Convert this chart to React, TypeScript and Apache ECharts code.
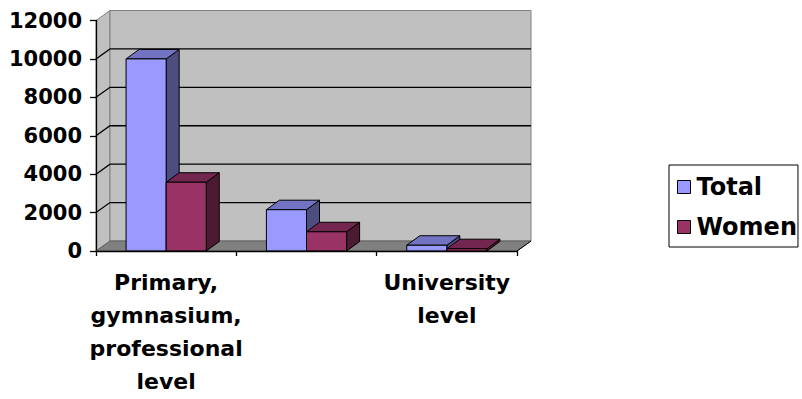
import React, { useEffect, useRef } from "react";
import * as echarts from "echarts";

// Education level categories (the middle label is skipped on the axis)
const CATEGORIES = [
  "Primary, gymnasium, professional level",
  "Secondary vocational level",
  "University level",
];
const TOTAL = [10000, 2150, 300];
const WOMEN = [3580, 1000, 120];

const Y_MIN = 0;
const Y_MAX = 12000;
const Y_STEP = 2000;

const FONT = "'DejaVu Sans', sans-serif";

// pseudo-3D depth of the walls and of the columns
const WALL_DX = 14;
const WALL_DY = 10;
const BAR_DX = 13;
const BAR_DY = 9.5;
const BAR_FRACTION = 40 / 140;

const SERIES_STYLE = [
  { name: "Total", front: "#9999FF", top: "#7373C4", side: "#4D4D80", offset: -1 },
  { name: "Women", front: "#993366", top: "#73264F", side: "#4D1A33", offset: 0 },
];

function renderFrame(params: any, api: any) {
  const cs = params.coordSys;
  const x0 = cs.x;
  const w = cs.width;
  const yT = cs.y;
  const yB = cs.y + cs.height;
  const children: any[] = [];

  // side wall
  children.push({
    type: "polygon",
    shape: { points: [[x0, yB], [x0, yT], [x0 + WALL_DX, yT - WALL_DY], [x0 + WALL_DX, yB - WALL_DY]] },
    style: { fill: "#C0C0C0", stroke: "#808080", lineWidth: 1 },
  });
  // back wall
  children.push({
    type: "rect",
    shape: { x: x0 + WALL_DX, y: yT - WALL_DY, width: w, height: cs.height },
    style: { fill: "#C0C0C0", stroke: "#808080", lineWidth: 1 },
  });
  // grid lines across the side and back walls
  for (let v = Y_MIN + Y_STEP; v < Y_MAX; v += Y_STEP) {
    const y = api.coord([0, v])[1];
    children.push({
      type: "polyline",
      shape: { points: [[x0, y], [x0 + WALL_DX, y - WALL_DY], [x0 + WALL_DX + w, y - WALL_DY]] },
      style: { fill: null, stroke: "#000", lineWidth: 1.3 },
    });
  }
  // floor
  children.push({
    type: "polygon",
    shape: { points: [[x0, yB], [x0 + w, yB], [x0 + w + WALL_DX, yB - WALL_DY], [x0 + WALL_DX, yB - WALL_DY]] },
    style: { fill: "#808080", stroke: "#606060", lineWidth: 1 },
  });
  children.push({
    type: "line",
    shape: { x1: x0 + w, y1: yB, x2: x0 + w + WALL_DX, y2: yB - WALL_DY },
    style: { stroke: "#000", lineWidth: 1 },
  });
  return { type: "group", children };
}

function makeBarRenderer(style: typeof SERIES_STYLE[number]) {
  return (params: any, api: any) => {
    const idx = api.value(0);
    const val = api.value(1);
    const base = api.coord([idx, 0]);
    const top = api.coord([idx, val]);
    const band = api.size([1, 0])[0];
    const bw = band * BAR_FRACTION;
    const left = base[0] + style.offset * bw;
    const yB = base[1];
    const yT = top[1];
    const edge = { stroke: "#000", lineWidth: 1, lineJoin: "round" };
    return {
      type: "group",
      children: [
        {
          type: "polygon",
          shape: {
            points: [[left + bw, yT], [left + bw + BAR_DX, yT - BAR_DY], [left + bw + BAR_DX, yB - BAR_DY], [left + bw, yB]],
          },
          style: { fill: style.side, ...edge },
        },
        {
          type: "polygon",
          shape: {
            points: [[left, yT], [left + bw, yT], [left + bw + BAR_DX, yT - BAR_DY], [left + BAR_DX, yT - BAR_DY]],
          },
          style: { fill: style.top, ...edge },
        },
        {
          type: "rect",
          shape: { x: left, y: yT, width: bw, height: yB - yT },
          style: { fill: style.front, ...edge },
        },
      ],
    };
  };
}

export default function App() {
  const ref = useRef<HTMLDivElement>(null);

  useEffect(() => {
    if (!ref.current) return;
    const chart = echarts.init(ref.current, undefined, { renderer: "svg" });
    const seriesData = [TOTAL, WOMEN];

    chart.setOption({
      animation: false,
      backgroundColor: "#FFFFFF",
      textStyle: { fontFamily: FONT },
      grid: { left: 96, top: 20.5, width: 421, height: 230.5, containLabel: false },
      xAxis: {
        type: "category",
        data: CATEGORIES,
        z: 5,
        axisLine: { show: true, lineStyle: { color: "#000", width: 1.3 } },
        axisTick: { show: true, interval: 0, length: 5, lineStyle: { color: "#000", width: 1.3 } },
        axisLabel: {
          interval: 1,
          margin: 15,
          color: "#000",
          fontFamily: FONT,
          fontWeight: "bold",
          fontSize: 22,
          lineHeight: 33,
          align: "center",
          formatter: (v: string) => v.split(" ").join("\n"),
        },
        splitLine: { show: false },
      },
      yAxis: {
        type: "value",
        min: Y_MIN,
        max: Y_MAX,
        interval: Y_STEP,
        z: 5,
        axisLine: { show: true, lineStyle: { color: "#000", width: 1.3 } },
        axisTick: { show: true, length: 6, lineStyle: { color: "#000", width: 1.3 } },
        axisLabel: {
          margin: 14,
          color: "#000",
          fontFamily: FONT,
          fontWeight: "bold",
          fontSize: 21,
          formatter: (v: number) => String(v),
        },
        splitLine: { show: false },
      },
      legend: {
        orient: "vertical",
        left: 669,
        top: 165,
        padding: [9, 1, 7, 8],
        itemGap: 14,
        itemWidth: 13,
        itemHeight: 13,
        borderColor: "#000",
        borderWidth: 1,
        backgroundColor: "#FFFFFF",
        icon: "rect",
        itemStyle: { borderColor: "#000", borderWidth: 1 },
        textStyle: { fontFamily: FONT, fontWeight: "bold", fontSize: 24, color: "#000", lineHeight: 26, padding: [0, 0, 0, 1] },
        data: SERIES_STYLE.map((s) => ({ name: s.name, itemStyle: { color: s.front } })),
      },
      series: [
        {
          type: "custom",
          name: "frame",
          z: 0,
          silent: true,
          renderItem: renderFrame,
          data: [[0, 0]],
        },
        ...SERIES_STYLE.map((s, si) => ({
          type: "custom",
          name: s.name,
          z: 2,
          itemStyle: { color: s.front },
          renderItem: makeBarRenderer(s),
          encode: { x: 0, y: 1 },
          data: seriesData[si].map((v, i) => [i, v]),
        })),
      ],
    });

    return () => chart.dispose();
  }, []);

  return (
    <div
      ref={ref}
      style={{ position: "fixed", left: 0, top: 0, width: 802, height: 399, background: "#fff" }}
    />
  );
}
